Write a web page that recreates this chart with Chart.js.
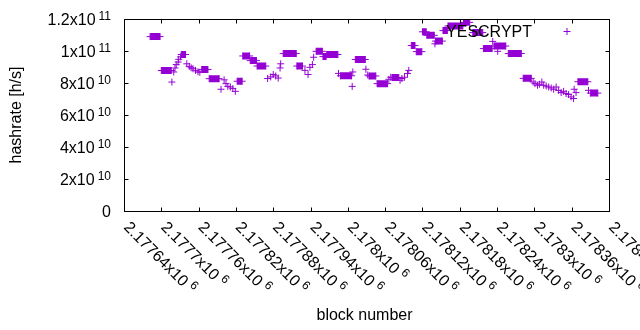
<!DOCTYPE html>
<html>
<head>
<meta charset="utf-8">
<script src="https://cdn.jsdelivr.net/npm/chart.js@4"></script>
<style>
  body { margin: 0; background: #fff; }
  canvas { display: block; }
</style>
</head>
<body>
<canvas id="hashChart" width="640" height="330"></canvas>
<script>
// stretches of blocks where the hashrate stays flat: first block, last block, value
const runStart = [2177682, 2177700, 2177732, 2177765, 2177777, 2177822, 2177831, 2177843, 2177854, 2177896,
  2177918, 2177949, 2177960, 2177966, 2177988, 2178012, 2178034, 2178047, 2178071, 2178102,
  2178110, 2178120, 2178127, 2178141, 2178153, 2178161, 2178186, 2178201, 2178218, 2178235,
  2178258, 2178282, 2178370, 2178390];
const runEnd = [2177698, 2177716, 2177739, 2177775, 2177793, 2177830, 2177842, 2177853, 2177868, 2177917,
  2177927, 2177959, 2177965, 2177984, 2178006, 2178028, 2178045, 2178064, 2178082, 2178108,
  2178119, 2178126, 2178139, 2178152, 2178160, 2178185, 2178196, 2178217, 2178232, 2178254,
  2178279, 2178295, 2178386, 2178402];
const runValue = [1.090e11, 8.78e10, 9.78e10, 8.84e10, 8.27e10, 8.11e10, 9.69e10, 9.40e10, 9.06e10, 9.84e10,
  9.06e10, 9.98e10, 9.65e10, 9.78e10, 8.45e10, 9.47e10, 8.44e10, 7.96e10, 8.34e10, 1.034e11,
  9.96e10, 1.120e11, 1.098e11, 1.062e11, 1.1275e11, 1.156e11, 1.179e11, 1.115e11, 1.015e11, 1.031e11,
  9.84e10, 8.29e10, 8.08e10, 7.37e10];

// single blocks
const pointBlock = [2177717, 2177720, 2177722, 2177724, 2177727, 2177728, 2177731, 2177741, 2177745, 2177748,
  2177751, 2177755, 2177759, 2177762, 2177796, 2177801, 2177804, 2177807, 2177811, 2177815,
  2177819, 2177871, 2177876, 2177880, 2177884, 2177888, 2177891, 2177892, 2177931, 2177936,
  2177939, 2177943, 2177945, 2177985, 2178007, 2178008, 2178029, 2178032, 2178066, 2178069,
  2178084, 2178087, 2178091, 2178096, 2178098, 2178140, 2178189, 2178233, 2178241, 2178298,
  2178301, 2178305, 2178308, 2178312, 2178315, 2178319, 2178323, 2178327, 2178331, 2178335,
  2178339, 2178343, 2178347, 2178351, 2178355, 2178359, 2178363, 2178364, 2178367, 2178387];
const pointValue = [8.06e10, 8.69e10, 8.94e10, 9.15e10, 9.31e10, 9.48e10, 9.63e10, 9.20e10, 9.04e10, 8.95e10,
  8.89e10, 8.79e10, 8.70e10, 8.67e10, 7.61e10, 8.20e10, 7.96e10, 7.79e10, 7.75e10, 7.65e10,
  7.48e10, 8.28e10, 8.38e10, 8.53e10, 8.44e10, 8.31e10, 8.94e10, 9.20e10, 8.79e10, 8.53e10,
  8.98e10, 9.15e10, 9.61e10, 8.60e10, 7.79e10, 8.69e10, 8.86e10, 8.50e10, 8.23e10, 8.36e10,
  8.17e10, 8.28e10, 8.36e10, 8.59e10, 8.79e10, 1.045e11, 1.2025e11, 1.060e11, 9.98e10, 8.06e10,
  7.96e10, 7.86e10, 7.92e10, 8.06e10, 7.86e10, 7.81e10, 7.75e10, 7.69e10, 7.61e10, 7.75e10,
  7.54e10, 7.40e10, 7.48e10, 7.34e10, 7.28e10, 7.13e10, 7.03e10, 7.61e10, 7.40e10, 7.54e10];

const xTicks = [2177640, 2177700, 2177760, 2177820, 2177880, 2177940, 2178000,
  2178060, 2178120, 2178180, 2178240, 2178300, 2178360, 2178420];
const xTickLabels = ['2.17764x10^6', '2.1777x10^6', '2.17776x10^6', '2.17782x10^6', '2.17788x10^6',
  '2.17794x10^6', '2.178x10^6', '2.17806x10^6', '2.17812x10^6', '2.17818x10^6', '2.17824x10^6',
  '2.1783x10^6', '2.17836x10^6', '2.17842x10^6'];
const yTicks = [0, 2e10, 4e10, 6e10, 8e10, 1e11, 1.2e11];
const yTickLabels = ['0', '2x10^10', '4x10^10', '6x10^10', '8x10^10', '1x10^11', '1.2x10^11'];

const purple = '#9400d3';
const font = '"Liberation Sans", Arial, sans-serif';

const runData = [];
runStart.forEach((s, i) => {
  runData.push({ x: s, y: runValue[i] }, { x: runEnd[i], y: runValue[i] }, { x: runEnd[i], y: null });
});
const singleData = pointBlock.map((b, i) => ({ x: b, y: pointValue[i] }));

// gnuplot look: frame, inward ticks, superscript labels, key on the right
const gnuplotFrame = {
  id: 'gnuplotFrame',
  afterDraw(chart) {
    const c = chart.ctx;
    const a = chart.chartArea;
    const xs = chart.scales.x, ys = chart.scales.y;
    const L = Math.round(a.left) + 0.5, R = Math.round(a.right) + 0.5;
    const T = Math.round(a.top) + 0.5, B = Math.round(a.bottom) + 0.5;
    c.save();
    c.strokeStyle = '#000';
    c.lineWidth = 1;
    c.strokeRect(L, T, R - L, B - T);
    c.beginPath();
    yTicks.forEach(v => {
      const y = Math.round(ys.getPixelForValue(v)) + 0.5;
      c.moveTo(L, y); c.lineTo(L + 4, y);
      c.moveTo(R, y); c.lineTo(R - 4, y);
    });
    xTicks.forEach(v => {
      const x = Math.round(xs.getPixelForValue(v)) + 0.5;
      c.moveTo(x, B); c.lineTo(x, B - 4);
      c.moveTo(x, T); c.lineTo(x, T + 4);
    });
    c.stroke();

    c.fillStyle = '#000';
    // y tick labels
    yTickLabels.forEach((lab, i) => {
      const y = ys.getPixelForValue(yTicks[i]);
      const [m, e] = lab.split('^');
      c.font = '16px ' + font;
      const mw = c.measureText(m).width;
      c.font = '12px ' + font;
      const ew = e ? c.measureText(e).width + 3 : 0;
      const x0 = 111 - ew - mw;
      c.textAlign = 'left';
      c.textBaseline = 'alphabetic';
      c.font = '16px ' + font;
      c.fillText(m, x0, y + 6);
      if (e) {
        c.font = '12px ' + font;
        c.fillText(e, x0 + mw + 3, y + 1);
      }
    });
    // x tick labels, rotated down to the right
    xTickLabels.forEach((lab, i) => {
      const x = xs.getPixelForValue(xTicks[i]);
      const [m, e] = lab.split('^');
      c.save();
      c.translate(x + 2, 225);
      c.rotate(Math.PI / 4);
      c.textAlign = 'left';
      c.textBaseline = 'middle';
      c.font = '16px ' + font;
      c.fillText(m, 0, 0);
      const mw = c.measureText(m).width;
      c.font = '12px ' + font;
      c.fillText(e, mw + 4, -5);
      c.restore();
    });
    // axis titles
    c.font = '16px ' + font;
    c.textAlign = 'center';
    c.textBaseline = 'alphabetic';
    c.fillText('block number', (a.left + a.right) / 2 - 2, 320);
    c.save();
    c.translate(21, (a.top + a.bottom) / 2);
    c.rotate(-Math.PI / 2);
    c.fillText('hashrate [h/s]', 0, 0);
    c.restore();
    // key
    c.textAlign = 'right';
    c.fillText(chart.data.datasets[0].label, 532, 37);
    c.strokeStyle = purple;
    c.beginPath();
    c.moveTo(563.5, 31.5); c.lineTo(570.5, 31.5);
    c.moveTo(567, 28); c.lineTo(567, 35);
    c.stroke();
    c.restore();
  }
};

new Chart(document.getElementById('hashChart'), {
  type: 'scatter',
  data: {
    datasets: [{
      label: 'YESCRYPT',
      data: runData,
      showLine: true,
      spanGaps: false,
      borderColor: purple,
      backgroundColor: purple,
      borderWidth: 7,
      borderCapStyle: 'butt',
      pointStyle: 'cross',
      pointRadius: 3.5,
      pointBorderWidth: 1,
      pointBorderColor: purple
    }, {
      label: 'YESCRYPT',
      data: singleData,
      showLine: false,
      pointStyle: 'cross',
      pointRadius: 3.5,
      pointBorderWidth: 1,
      pointBorderColor: purple,
      backgroundColor: purple
    }]
  },
  options: {
    responsive: false,
    animation: false,
    layout: { padding: { left: 124, right: 31, top: 19, bottom: 119 } },
    plugins: { legend: { display: false }, tooltip: { enabled: false } },
    scales: {
      x: { type: 'linear', display: false, min: 2177640, max: 2178420 },
      y: { display: false, min: 0, max: 1.2e11 }
    }
  },
  plugins: [gnuplotFrame]
});
</script>
</body>
</html>
